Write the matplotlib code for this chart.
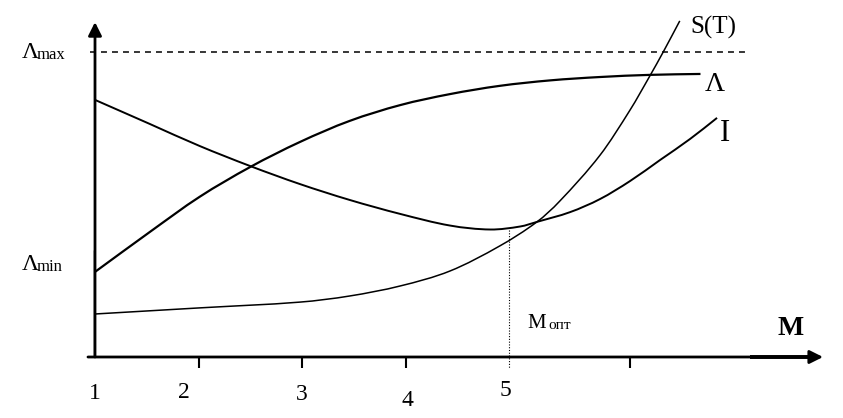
import matplotlib
matplotlib.use("Agg")
import matplotlib.pyplot as plt
from matplotlib.path import Path
from matplotlib.patches import PathPatch

plt.rcParams['font.family'] = ['Liberation Serif', 'DejaVu Serif']

# ---------------- data ----------------
# Lambda curve
lam_M = [1.00, 1.53, 2.01, 2.50, 2.98, 3.46, 3.95, 4.43, 4.91, 5.40, 5.88, 6.36, 6.85]
lam_v = [0.279, 0.410, 0.525, 0.623, 0.705, 0.774, 0.826, 0.862, 0.889, 0.907, 0.918, 0.925, 0.928]

# I curve
i_M = [1.00, 1.53, 2.01, 2.50, 2.98, 3.46, 3.95, 4.43, 4.82, 5.11, 5.27,
       5.59, 5.88, 6.17, 6.46, 6.75, 7.01]
i_v = [0.843, 0.764, 0.692, 0.626, 0.567, 0.515, 0.469, 0.431, 0.418, 0.428, 0.443,
       0.475, 0.518, 0.577, 0.646, 0.715, 0.784]

# S(T) curve
s_M = [1.00, 2.01, 2.98, 3.46, 3.95, 4.43, 4.91, 5.27, 5.49, 5.88, 6.17, 6.36, 6.49, 6.65]
s_v = [0.141, 0.161, 0.180, 0.200, 0.233, 0.282, 0.364, 0.443, 0.511, 0.662, 0.810, 0.921,
       1.000, 1.102]

lambda_max = 1.0
m_opt = 5.0
i_min_level = 0.418

tick_marks = [2, 3, 4, 6.17]
tick_labels = ['1', '2', '3', '4', '5']
tick_label_M = [1.00, 1.86, 3.00, 4.02, 4.97]
tick_label_v = [-0.121, -0.118, -0.124, -0.141, -0.111]


def smooth_curve(xs, ys):
    """Smooth path through the given points (cubic Hermite drawn as Bezier segments)."""
    n = len(xs)
    slopes = []
    for i in range(n):
        a = max(i - 1, 0)
        b = min(i + 1, n - 1)
        slopes.append((ys[b] - ys[a]) / (xs[b] - xs[a]))
    verts = [(xs[0], ys[0])]
    codes = [Path.MOVETO]
    for i in range(n - 1):
        dx = xs[i + 1] - xs[i]
        verts.append((xs[i] + dx / 3, ys[i] + slopes[i] * dx / 3))
        verts.append((xs[i + 1] - dx / 3, ys[i + 1] - slopes[i + 1] * dx / 3))
        verts.append((xs[i + 1], ys[i + 1]))
        codes += [Path.CURVE4] * 3
    return Path(verts, codes)


# ---------------- figure ----------------
fig = plt.figure(figsize=(8.43, 4.18), dpi=100)
ax = fig.add_axes([0, 0, 1, 1])
ax.set_xlim(1 - 95 / 103.5, 1 + 748 / 103.5)
ax.set_ylim(-61 / 305, 357 / 305)
ax.axis('off')

k = 'black'
# axes with arrows
ax.annotate('', xy=(1, 1.098), xytext=(1, 0),
            arrowprops=dict(arrowstyle='-|>', lw=2.0, color=k, mutation_scale=20,
                            shrinkA=0, shrinkB=0))
ax.annotate('', xy=(8.034, 0), xytext=(0.932, 0),
            arrowprops=dict(arrowstyle='-|>', lw=2.0, color=k, mutation_scale=20,
                            shrinkA=0, shrinkB=0))
ax.plot([0.987, 0.987], [0.0, 0.35], color=k, lw=1.0, solid_capstyle='butt')
ax.plot([7.33, 7.95], [0.0, 0.0], color=k, lw=2.8, solid_capstyle='butt')

# ticks
for t in tick_marks:
    ax.plot([t, t], [0, -0.036], color=k, lw=1.5, solid_capstyle='butt')
for lab, xm, yv in zip(tick_labels, tick_label_M, tick_label_v):
    ax.text(xm, yv, lab, ha='center', va='center', fontsize=17, color=k)

# Lambda max dashed line
ax.plot([0.952, 7.33], [lambda_max, lambda_max], color=k, lw=1.1, dashes=(3.9, 3.3))

# curves
for xs, ys, lw in ((lam_M, lam_v, 1.6), (i_M, i_v, 1.4), (s_M, s_v, 1.1)):
    ax.add_patch(PathPatch(smooth_curve(xs, ys), fill=False, edgecolor=k, lw=lw))

# optimum dotted line
ax.plot([m_opt, m_opt], [i_min_level, -0.036], color=k, lw=0.8, linestyle=(0, (1, 1.5)))

# labels
ax.text(0.295, 0.98, 'Λ', fontsize=17, ha='left', va='baseline')
ax.text(0.44, 0.977, 'max', fontsize=12, ha='left', va='baseline')
ax.text(0.295, 0.285, 'Λ', fontsize=17, ha='left', va='baseline')
ax.text(0.44, 0.282, 'min', fontsize=12, ha='left', va='baseline')

ax.text(6.749, 1.062, 'S(T)', fontsize=18, ha='left', va='baseline')
ax.text(6.894, 0.872, 'Λ', fontsize=20, ha='left', va='baseline')
ax.text(7.039, 0.708, 'I', fontsize=22, ha='left', va='baseline')

ax.text(5.174, 0.095, 'M', fontsize=15, ha='left', va='baseline')
ax.text(5.377, 0.092, 'опт', fontsize=11, ha='left', va='baseline')
ax.text(7.59, 0.072, 'M', fontsize=20, fontweight='bold', ha='left', va='baseline')

fig.savefig('out.png', dpi=100)
